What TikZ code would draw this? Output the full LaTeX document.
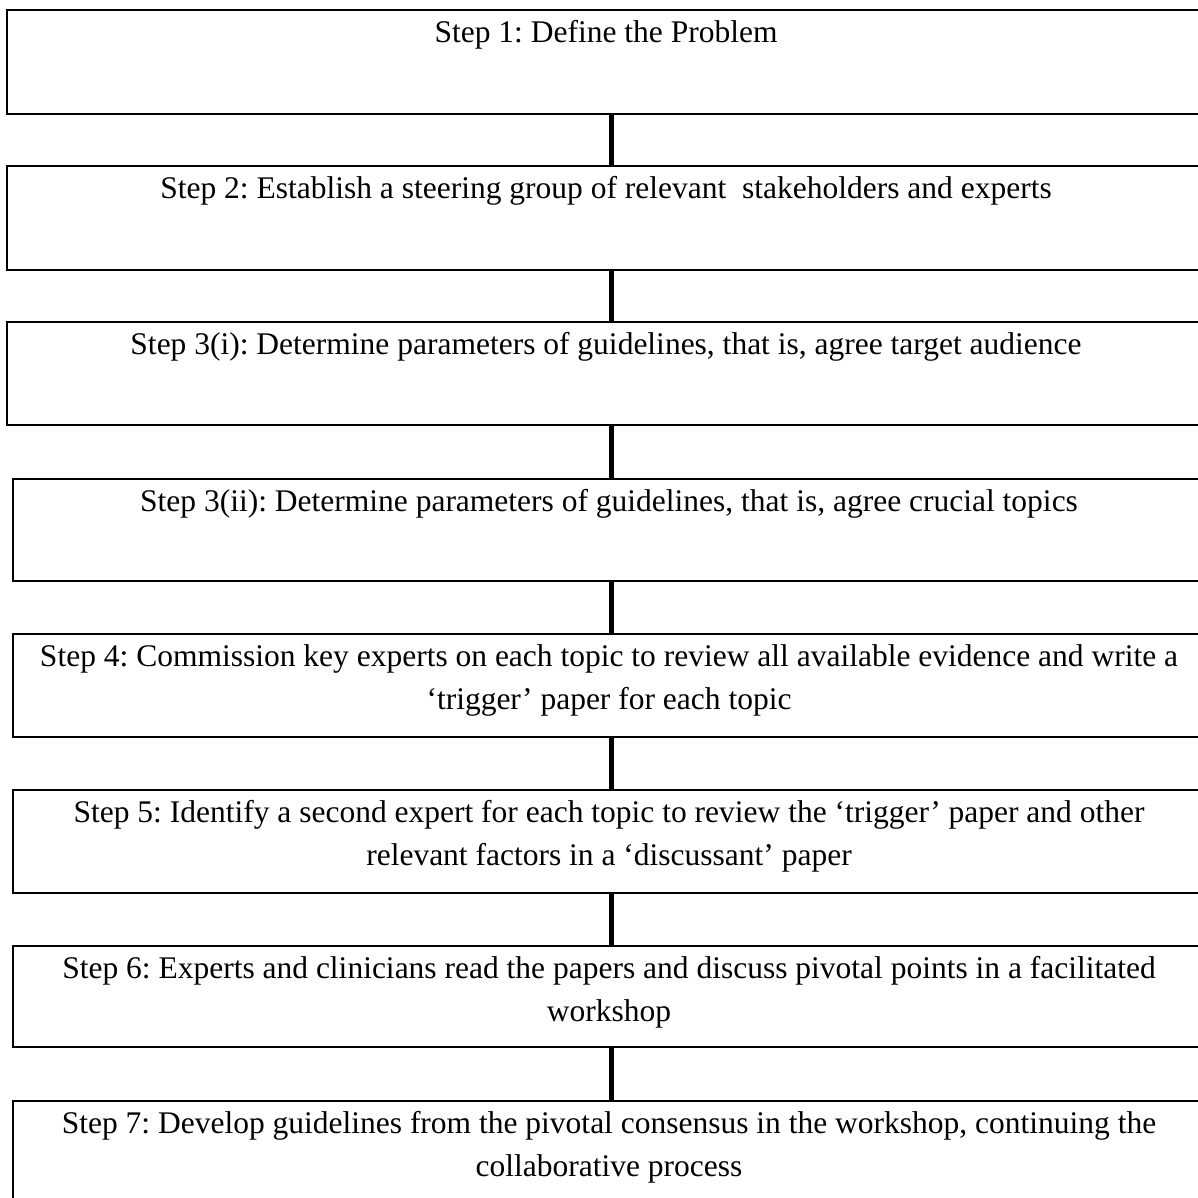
\documentclass[tikz,border=0pt]{standalone}
\usepackage{fontspec}
\setmainfont{Liberation Serif}
\frenchspacing
\begin{document}
\begin{tikzpicture}[x=1pt,y=1pt,
  stepbox/.style={draw=black, line width=#1, fill=none},
  stepbox/.default=2pt,
  steptext/.style={anchor=north, inner sep=0pt, align=center, font=\fontsize{31.5}{43}\selectfont},
  conn/.style={line width=5pt, draw=black}]
\useasboundingbox (0,0) rectangle (1198,-1198);
\clip (0,0) rectangle (1198,-1198);
% boxes
\draw[stepbox=1.6pt] (7,-10) coordinate (b1nw) rectangle (1205,-114) coordinate (b1se);
\draw[stepbox=1.6pt] (7,-166) coordinate (b2nw) rectangle (1205,-270) coordinate (b2se);
\draw[stepbox=1.8pt] (7,-322) coordinate (b3nw) rectangle (1205,-425) coordinate (b3se);
\draw[stepbox=2.4pt] (13,-479) coordinate (b4nw) rectangle (1205,-581) coordinate (b4se);
\draw[stepbox=2.4pt] (13,-634) coordinate (b5nw) rectangle (1205,-737) coordinate (b5se);
\draw[stepbox=2.4pt] (13,-790) coordinate (b6nw) rectangle (1205,-893) coordinate (b6se);
\draw[stepbox=2.4pt] (13,-946) coordinate (b7nw) rectangle (1205,-1047) coordinate (b7se);
\draw[stepbox=2.4pt] (13,-1101) coordinate (b8nw) rectangle (1205,-1205) coordinate (b8se);
% texts
\node[steptext] (t1) at (606,-12) {\strut Step 1: Define the Problem};
\node[steptext] (t2) at (606,-168) {\strut Step 2: Establish a steering group of relevant~ stakeholders and experts};
\node[steptext] (t3) at (606,-324) {\strut Step 3(i): Determine parameters of guidelines, that is, agree target audience};
\node[steptext] (t4) at (609,-481) {\strut Step 3(ii): Determine parameters of guidelines, that is, agree crucial topics};
\node[steptext] (t5) at (609,-636) {\strut Step 4: Commission key experts on each topic to review all available evidence and write a\\ ‘trigger’ paper for each topic};
\node[steptext] (t6) at (609,-792) {\strut Step 5: Identify a second expert for each topic to review the ‘trigger’ paper and other\\ relevant factors in a ‘discussant’ paper};
\node[steptext] (t7) at (609,-948) {\strut Step 6: Experts and clinicians read the papers and discuss pivotal points in a facilitated\\ workshop};
\node[steptext] (t8) at (609,-1103) {\strut Step 7: Develop guidelines from the pivotal consensus in the workshop, continuing the\\ collaborative process};
% connectors
\coordinate (cx) at (611,0);
\draw[conn] (cx |- b1se) -- (cx |- b2nw);
\draw[conn] (cx |- b2se) -- (cx |- b3nw);
\draw[conn] (cx |- b3se) -- (cx |- b4nw);
\draw[conn] (cx |- b4se) -- (cx |- b5nw);
\draw[conn] (cx |- b5se) -- (cx |- b6nw);
\draw[conn] (cx |- b6se) -- (cx |- b7nw);
\draw[conn] (cx |- b7se) -- (cx |- b8nw);
\end{tikzpicture}
\end{document}
